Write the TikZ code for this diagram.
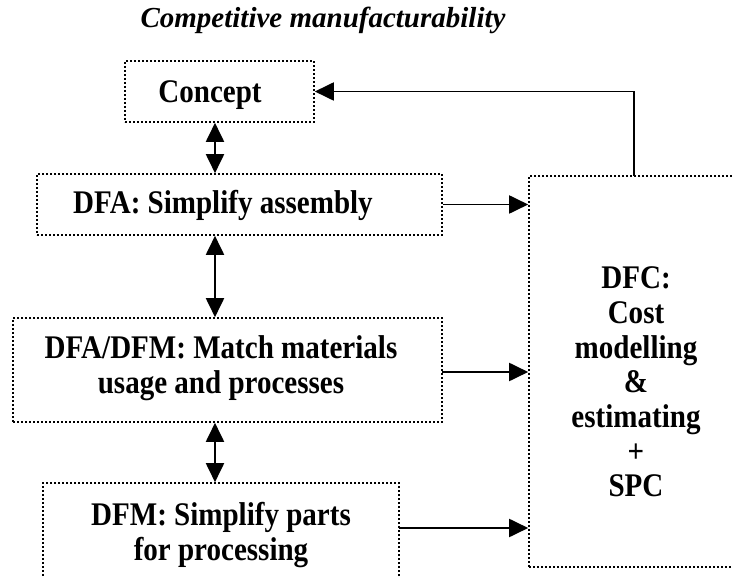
\documentclass[tikz,border=0pt]{standalone}
\usepackage{fontspec}
\setmainfont{Liberation Serif}
\newfontfamily\tallfont[FakeStretch=0.88]{Liberation Serif}
\usetikzlibrary{arrows.meta}
\tikzset{
  dotbox/.style={draw, line width=1.6pt, dash pattern=on 1.6pt off 2.4pt, inner sep=0pt},
  txt/.style={font=\tallfont\fontsize{33}{34.7}\selectfont\bfseries, align=center, inner sep=0pt},
  conn/.style={line width=1.9pt, -{Triangle[length=19pt,width=18pt]}},
  dconn/.style={line width=1.9pt, {Triangle[length=19pt,width=18pt]}-{Triangle[length=19pt,width=18pt]}}
}
\begin{document}
\begin{tikzpicture}[x=1pt,y=-1pt]
\useasboundingbox (0,0) rectangle (732,577);
\clip (0,0) rectangle (732,577);
% title
\node[font=\fontsize{29}{34.7}\selectfont\bfseries\itshape, anchor=base, inner sep=0pt] (title) at (323,28) {Competitive manufacturability};
% boxes
\node[dotbox, minimum width=189pt, minimum height=61pt] (concept) at (219.5,91.5) {};
\node[dotbox, minimum width=405pt, minimum height=61pt] (dfa) at (239.5,204.5) {};
\node[dotbox, minimum width=429pt, minimum height=104pt] (match) at (227.5,370) {};
\node[dotbox, minimum width=356pt, minimum height=117pt] (dfm) at (221,541.5) {};
\node[dotbox, minimum width=216pt, minimum height=391pt] (dfc) at (637,371.5) {};
% texts
\node[txt] (tconcept) at (210,95) {Concept};
\node[txt] (tdfa) at (223,205) {DFA: Simplify assembly};
\node[txt] (tmatch) at (221,368) {DFA/DFM: Match materials\\usage and processes};
\node[txt] (tdfm) at (221,535) {DFM: Simplify parts\\for processing};
\node[txt] (tdfc) at (636,382) {DFC:\\Cost\\modelling\\\&\\estimating\\+\\SPC};
% connectors
\coordinate (col) at (215,0);
\draw[dconn] (concept.south -| col) -- (dfa.north -| col);
\draw[dconn] (dfa.south -| col) -- (match.north -| col);
\draw[dconn] (match.south -| col) -- (dfm.north -| col);
\draw[conn] (dfa.east) -- (dfa.east -| dfc.west);
\coordinate (m2) at (442,372);
\draw[conn] (m2) -- (m2 -| dfc.west);
\coordinate (m3) at (399,528);
\draw[conn] (m3) -- (m3 -| dfc.west);
\coordinate (fb) at (634,176);
\draw[conn] (fb) |- (concept.east);
\end{tikzpicture}
\end{document}
